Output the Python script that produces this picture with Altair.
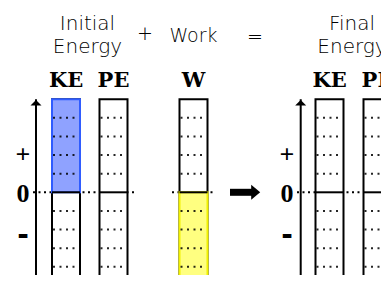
import altair as alt
import pandas as pd

# ---------------- data ----------------
columns = ["KE", "PE", "W", "KE", "PE"]
stages = ["Initial", "Initial", "Work", "Final", "Final"]
values = [5, 0, -5, 0, 0]
grid_levels = [-4, -3, -2, -1, 1, 2, 3, 4]
scale_limits = [-5, 5]
sign_labels = ["+", "0", "-"]
sign_levels = [2.0, -0.1, -2.35]
group_titles = [["Initial", "Energy"], ["Final", "Energy"]]
operator_labels = ["+", "Work", "="]

# ---------------- layout (view pixels) ----------------
W_VIEW, H_VIEW = 373, 267
UNIT_PX = 18.616
Y_TOP = 9.9
Y_DOMAIN = [Y_TOP - H_VIEW / UNIT_PX, Y_TOP]
COL_CENTERS = [58, 105.5, 185.5, 321.5, 369.5]
COL_W = 28
AXES_X = [28, 292.7]
ZERO_SPANS = [(25, 128), (164, 207), (289, 400)]
TITLE_X = [79.5, 344]
TITLE_V = [8.72, 7.46]
SIGN_X = [15, 279]
OP_X = [137, 185.5, 247]
OP_V = [8.49, 8.09, 8.36]
ARROW = dict(x0=222, x1=246, head=247.7)

BLUE_FILL, BLUE_STROKE = "#8fa2ff", "#2f5cff"
YEL_FILL, YEL_STROKE = "#ffff80", "#f2f200"

xs = alt.Scale(domain=[0, W_VIEW], nice=False, zero=False)
ys = alt.Scale(domain=Y_DOMAIN, nice=False, zero=False)
X = lambda f: alt.X(f, type="quantitative", scale=xs, axis=None)
Y = lambda f: alt.Y(f, type="quantitative", scale=ys, axis=None)

cols = pd.DataFrame({
    "col": columns, "stage": stages, "value": values,
    "xc": COL_CENTERS,
})
cols["x0"] = cols["xc"] - COL_W / 2
cols["x1"] = cols["xc"] + COL_W / 2
cols["lo"] = scale_limits[0]
cols["hi"] = scale_limits[1]
cols["b0"] = cols["value"].clip(upper=0)
cols["b1"] = cols["value"].clip(lower=0)
cols["zero"] = 0

boxes = alt.Chart(cols).mark_rect(fill="white", stroke="black", strokeWidth=2).encode(
    x=X("x0"), x2="x1", y=Y("lo"), y2="hi")

bars = alt.Chart(cols[cols["value"] != 0]).mark_rect(strokeWidth=2).encode(
    x=X("x0"), x2="x1", y=Y("b0"), y2="b1",
    fill=alt.Fill("col:N", scale=alt.Scale(domain=["KE", "W"], range=[BLUE_FILL, YEL_FILL]), legend=None),
    stroke=alt.Stroke("col:N", scale=alt.Scale(domain=["KE", "W"], range=[BLUE_STROKE, YEL_STROKE]), legend=None),
)

grid_rows = []
for _, r in cols.iterrows():
    for g in grid_levels:
        grid_rows.append({"x0": r["x0"] + 1, "x1": r["x1"] - 1, "v": g})
grid = alt.Chart(pd.DataFrame(grid_rows)).mark_rule(
    color="black", strokeWidth=2, strokeDash=[2, 4.5], opacity=0.85).encode(
    x=X("x0"), x2="x1", y=Y("v"))

zero_dotted = alt.Chart(pd.DataFrame(
    [{"x0": a, "x1": b, "v": 0} for a, b in ZERO_SPANS])).mark_rule(
    color="black", strokeWidth=2, strokeDash=[2, 3.5]).encode(
    x=X("x0"), x2="x1", y=Y("v"))

zero_solid = alt.Chart(cols).mark_rule(color="black", strokeWidth=2).encode(
    x=X("x0"), x2="x1", y=Y("zero"))

axes_df = pd.DataFrame({"x": AXES_X, "top": scale_limits[1], "bottom": -6,
                        "head": 4.81})
axes = alt.Chart(axes_df).mark_rule(color="black", strokeWidth=2).encode(
    x=X("x"), y=Y("top"), y2="bottom")
axis_heads = alt.Chart(axes_df).mark_point(
    shape="M0,-0.5L1,0.5L-1,0.5Z", filled=True, size=121, color="black",
    opacity=1, strokeWidth=0).encode(x=X("x"), y=Y("head"))

arrow_df = pd.DataFrame([{"x0": ARROW["x0"], "x1": ARROW["x1"], "h": ARROW["head"], "v": 0}])
arrow_shaft = alt.Chart(arrow_df).mark_rule(color="black", strokeWidth=7).encode(
    x=X("x0"), x2="x1", y=Y("v"))
arrow_head = alt.Chart(arrow_df).mark_point(
    shape="M-0.6,-1L0.6,0L-0.6,1Z", filled=True, size=225, color="black",
    opacity=1, strokeWidth=0).encode(x=X("h"), y=Y("v"))

# headings
head_df = cols.assign(v=5.67)
headings = alt.Chart(head_df).mark_text(
    font="DejaVu Serif", fontWeight="bold", fontSize=21, baseline="alphabetic",
    align="center", color="black").encode(x=X("xc"), y=Y("v"), text="col:N")

# sign labels
sign_rows = []
for sx in SIGN_X:
    for lab, lv in zip(sign_labels, sign_levels):
        sign_rows.append({"x": sx, "v": lv, "t": lab})
sign_df = pd.DataFrame(sign_rows)
signs_pm = alt.Chart(sign_df[sign_df["t"] != "-"]).mark_text(
    font="Liberation Serif", fontWeight="bold", fontSize=26, baseline="middle",
    align="center", color="black").encode(x=X("x"), y=Y("v"), text="t:N")
signs_minus = alt.Chart(sign_df[sign_df["t"] == "-"]).mark_text(
    font="DejaVu Sans", fontWeight="bold", fontSize=28, baseline="middle",
    align="center", color="black").encode(x=X("x"), y=Y("v"), text="t:N")

# group titles
title_rows = []
for tx, lines in zip(TITLE_X, group_titles):
    for line, lv in zip(lines, TITLE_V):
        title_rows.append({"x": tx, "v": lv, "t": line})
titles = alt.Chart(pd.DataFrame(title_rows)).mark_text(
    font="DejaVu Sans", fontWeight=200, fontSize=20, baseline="alphabetic",
    align="center", color="black").encode(x=X("x"), y=Y("v"), text="t:N")

op_df = pd.DataFrame({"x": OP_X, "v": OP_V, "t": operator_labels})
ops_sym = alt.Chart(op_df[op_df["t"] != "Work"]).mark_text(
    font="DejaVu Sans", fontWeight=200, fontSize=19, baseline="middle",
    align="center", color="black").encode(x=X("x"), y=Y("v"), text="t:N")
ops_word = alt.Chart(op_df[op_df["t"] == "Work"]).mark_text(
    font="DejaVu Sans", fontWeight=200, fontSize=19, baseline="alphabetic",
    align="center", color="black").encode(x=X("x"), y=Y("v"), text="t:N")

chart = alt.layer(
    zero_dotted, boxes, bars, grid, zero_solid, axes, axis_heads,
    arrow_shaft, arrow_head, headings, signs_pm, signs_minus, titles,
    ops_sym, ops_word,
).properties(
    width=W_VIEW, height=H_VIEW, padding=0, background="white",
    autosize=alt.AutoSizeParams(type="none"),
).configure_view(stroke=None)

chart.save("out.html", embed_options={"renderer": "svg", "actions": False})
